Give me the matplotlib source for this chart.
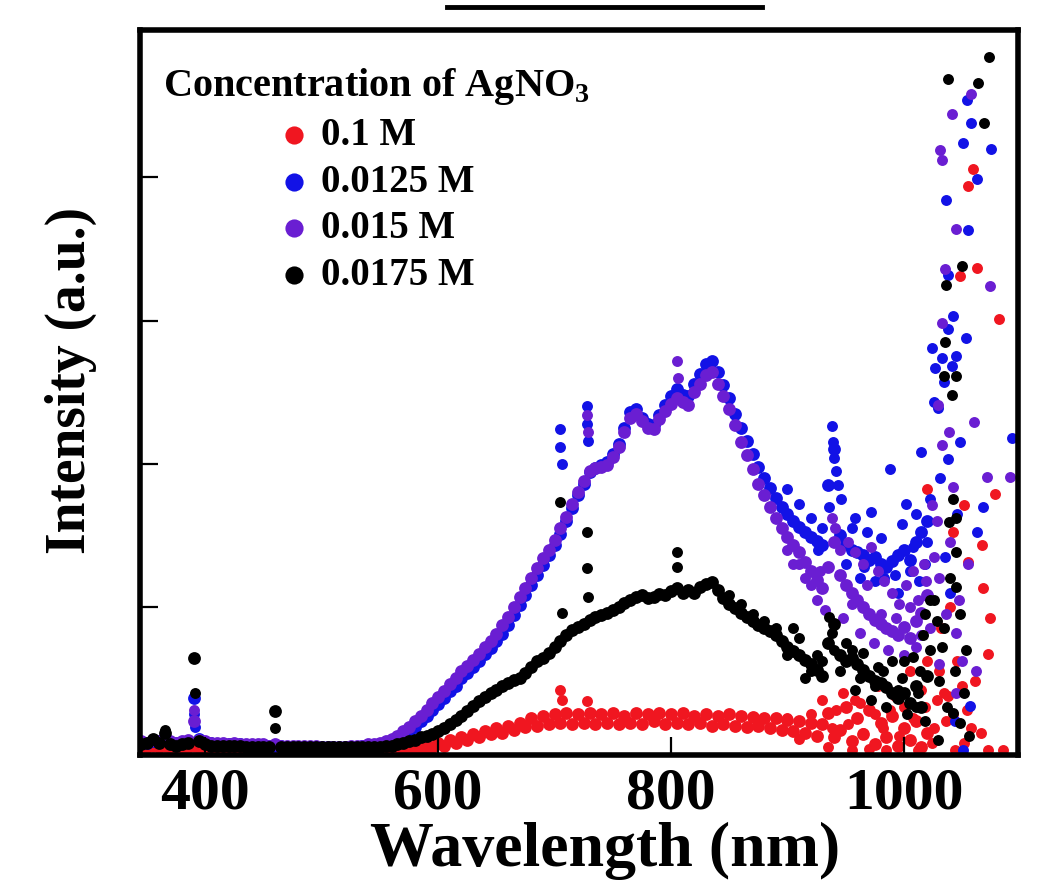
import numpy as np
import matplotlib.pyplot as plt
from matplotlib.lines import Line2D

plt.rcParams['font.family'] = ['Liberation Serif', 'DejaVu Serif']
plt.rcParams['font.weight'] = 'bold'
plt.rcParams['mathtext.fontset'] = 'custom'
plt.rcParams['mathtext.rm'] = 'Liberation Serif:bold'
plt.rcParams['mathtext.bf'] = 'Liberation Serif:bold'

# wavelength grid (nm), 5 nm sampling
wavelength = np.arange(345, 1021, 5)

# 0.1 M
int_01 = [0.02, 0.02, 0.03, 0.02, 0.03, 0.02, 0.02, 0.02, 0.02, 0.03,
          0.02, 0.02, 0.02, 0.02, 0.01, 0.01, 0.01, 0.01, 0.01, 0.01,
          0.01, 0.01, 0.01, 0.01, 0.01, 0.01, 0.01, 0.01, 0.01, 0.01,
          0.01, 0.01, 0.01, 0.01, 0.01, 0.01, 0.01, 0.01, 0.01, 0.01,
          0.01, 0.01, 0.01, 0.01, 0.01, 0.01, 0.01, 0.02, 0.02, 0.02,
          0.02, 0.05, 0.03, 0.07, 0.05, 0.09, 0.07, 0.11, 0.09, 0.13,
          0.11, 0.15, 0.12, 0.17, 0.14, 0.19, 0.16, 0.22, 0.17, 0.24,
          0.18, 0.25, 0.19, 0.26, 0.18, 0.25, 0.19, 0.26, 0.18, 0.25,
          0.19, 0.26, 0.18, 0.24, 0.19, 0.26, 0.18, 0.25, 0.20, 0.26,
          0.18, 0.25, 0.19, 0.26, 0.18, 0.24, 0.19, 0.25, 0.17, 0.24,
          0.18, 0.25, 0.17, 0.24, 0.16, 0.23, 0.17, 0.22, 0.15, 0.22,
          0.14, 0.21, 0.13, 0.20, 0.12, 0.19, 0.10, 0.18, 0.26, 0.09,
          0.14, 0.30, 0.06, 0.22, 0.11, 0.28, 0.04, 0.19, 0.09, 0.24,
          0.03, 0.15, 0.07, 0.20, 0.02, 0.12]

# 0.0125 M
int_0125 = [0.05, 0.05, 0.06, 0.06, 0.07, 0.05, 0.05, 0.05, 0.06, 0.36,
            0.08, 0.05, 0.05, 0.04, 0.04, 0.04, 0.04, 0.04, 0.03, 0.03,
            0.03, 0.03, 0.03, 0.03, 0.03, 0.02, 0.02, 0.02, 0.02, 0.02,
            0.02, 0.02, 0.02, 0.02, 0.02, 0.02, 0.02, 0.02, 0.03, 0.03,
            0.03, 0.04, 0.05, 0.06, 0.08, 0.10, 0.13, 0.16, 0.20, 0.24,
            0.28, 0.32, 0.36, 0.41, 0.45, 0.50, 0.54, 0.58, 0.62, 0.67,
            0.71, 0.76, 0.81, 0.87, 0.94, 1.01, 1.08, 1.15, 1.22, 1.29,
            1.36, 1.43, 1.51, 1.60, 1.69, 1.78, 1.86, 1.94, 1.97, 1.99,
            2.01, 2.07, 2.14, 2.25, 2.36, 2.38, 2.32, 2.28, 2.27, 2.34,
            2.41, 2.47, 2.52, 2.48, 2.47, 2.56, 2.63, 2.70, 2.72, 2.64,
            2.55, 2.46, 2.35, 2.25, 2.16, 2.07, 1.98, 1.90, 1.83, 1.76,
            1.70, 1.65, 1.60, 1.56, 1.52, 1.49, 1.46, 1.43, 1.85, 2.10,
            1.50, 1.44, 1.40, 1.38, 1.36, 1.33, 1.35, 1.30, 1.28, 1.32,
            1.36, 1.40, 1.33, 1.45, 1.52, 1.60]

# 0.015 M
int_015 = [0.06, 0.05, 0.07, 0.06, 0.08, 0.06, 0.05, 0.06, 0.07, 0.20,
           0.07, 0.06, 0.05, 0.05, 0.05, 0.04, 0.05, 0.04, 0.04, 0.04,
           0.04, 0.04, 0.03, 0.04, 0.03, 0.03, 0.03, 0.03, 0.03, 0.03,
           0.03, 0.02, 0.02, 0.02, 0.02, 0.02, 0.03, 0.03, 0.03, 0.04,
           0.04, 0.05, 0.06, 0.08, 0.10, 0.13, 0.16, 0.20, 0.24, 0.28,
           0.33, 0.37, 0.41, 0.46, 0.50, 0.55, 0.59, 0.63, 0.67, 0.72,
           0.76, 0.81, 0.87, 0.93, 1.00, 1.07, 1.13, 1.20, 1.27, 1.34,
           1.40, 1.47, 1.55, 1.63, 1.72, 1.80, 1.88, 1.95, 1.97, 1.98,
           1.99, 2.05, 2.12, 2.22, 2.32, 2.35, 2.30, 2.25, 2.24, 2.31,
           2.37, 2.42, 2.46, 2.43, 2.41, 2.50, 2.56, 2.62, 2.64, 2.56,
           2.47, 2.38, 2.27, 2.15, 2.06, 1.96, 1.86, 1.78, 1.70, 1.62,
           1.55, 1.49, 1.43, 1.38, 1.31, 1.25, 1.19, 1.13, 1.28, 1.45,
           1.22, 1.15, 1.10, 1.05, 1.00, 0.95, 0.91, 0.88, 0.85, 0.83,
           0.80, 0.86, 0.78, 0.90, 0.96, 1.08]

# 0.0175 M
int_0175 = [0.04, 0.05, 0.08, 0.05, 0.12, 0.04, 0.03, 0.04, 0.05, 0.64,
            0.06, 0.04, 0.03, 0.03, 0.03, 0.03, 0.03, 0.03, 0.02, 0.02,
            0.02, 0.02, 0.02, 0.27, 0.02, 0.02, 0.02, 0.02, 0.02, 0.02,
            0.02, 0.02, 0.02, 0.02, 0.02, 0.02, 0.02, 0.02, 0.02, 0.02,
            0.02, 0.02, 0.03, 0.03, 0.04, 0.05, 0.06, 0.07, 0.09, 0.10,
            0.11, 0.13, 0.15, 0.18, 0.21, 0.24, 0.27, 0.31, 0.34, 0.37,
            0.40, 0.42, 0.45, 0.47, 0.49, 0.50, 0.54, 0.58, 0.62, 0.64,
            0.68, 0.72, 0.76, 0.80, 0.84, 0.86, 0.88, 0.91, 0.93, 0.94,
            0.96, 0.98, 1.00, 1.03, 1.05, 1.07, 1.08, 1.06, 1.07, 1.09,
            1.08, 1.11, 1.13, 1.10, 1.12, 1.10, 1.14, 1.16, 1.17, 1.12,
            1.06, 1.02, 0.99, 0.96, 0.93, 0.90, 0.87, 0.85, 0.83, 0.80,
            0.76, 0.72, 0.69, 0.66, 0.63, 0.60, 0.56, 0.52, 0.75, 0.88,
            0.66, 0.62, 0.64, 0.60, 0.56, 0.52, 0.48, 0.47, 0.44, 0.40,
            0.36, 0.40, 0.33, 0.45, 0.30, 0.52]

# spikes and the noisy tail past ~900 nm
x_01 = [705, 706, 728, 930, 935, 948, 955, 962, 970, 978, 985, 992, 1000, 1005,
        1012, 1015, 1020, 1024, 1028, 1030, 1032, 1036, 1038, 1040, 1044, 1046,
        1050, 1052, 1054, 1058, 1061, 1066, 1072, 1085,
        900, 910, 920, 938, 942, 952, 958, 965, 975, 982, 988, 996, 1008, 1018,
        1026, 1034, 1042,
        1020, 1042, 1048, 1052, 1055, 1055, 1059, 1063, 1067, 1068, 1072, 1074,
        1078, 1082]
y_01 = [0.42, 0.35, 0.34, 0.35, 0.02, 0.40, 0.00, 0.33, 0.01, 0.45, 0.00, 0.38,
        0.30, 0.55, 0.00, 0.42, 0.62, 0.05, 0.35, 0.55, 0.85, 0.20, 0.38, 1.00,
        0.00, 0.62, 0.45, 0.05, 0.28, 0.15, 0.48, 0.12, 0.00, 0.00,
        0.22, 0.08, 0.25, 0.15, 0.28, 0.18, 0.35, 0.12, 0.25, 0.15, 0.28, 0.10,
        0.22, 0.30, 0.15, 0.40, 0.25,
        1.82, 1.52, 3.31, 1.71, 3.94, 1.31, 4.06, 3.37, 1.43, 1.13, 0.67, 0.92,
        1.79, 3.01]

x_0125 = [390, 391, 705, 705, 706, 728, 728, 729,
          938, 939, 940, 942, 943, 936, 946,
          900, 910, 920, 926, 930, 950, 958, 966, 972, 983, 995, 1002, 1008,
          1013, 1020,
          955, 962, 968, 975, 980, 988, 992, 998, 1005, 1010, 1015, 1018, 1022,
          1024, 1026, 1027, 1029, 1031, 1033, 1034, 1035, 1036, 1038, 1038,
          1038, 1040, 1041, 1042, 1044, 1045, 1046, 1048, 1051, 1051, 1053,
          1054, 1055, 1057, 1058, 1063, 1063, 1068, 1075, 1093]
y_0125 = [0.25, 0.16, 2.24, 2.12, 2.00, 2.40, 2.28, 2.16,
          2.26, 2.15, 2.04, 1.95, 1.85, 1.70, 1.75,
          1.82, 1.72, 1.62, 1.40, 1.55, 1.30, 1.62, 1.28, 1.66, 1.20, 1.10, 1.72,
          1.42, 1.18, 1.45,
          1.55, 1.20, 1.52, 1.18, 1.48, 1.96, 1.22, 1.58, 1.25, 1.65, 2.08, 1.30,
          1.75, 2.81, 2.43, 2.67, 2.39, 1.90, 2.74, 2.57, 1.35, 3.84, 2.03, 2.94,
          3.32, 1.10, 2.68, 3.03, 0.20, 2.75, 1.65, 2.15, 4.24, 0.00, 2.88,
          4.54, 3.63, 0.31, 4.38, 3.99, 1.52, 1.70, 4.20, 2.18]

x_015 = [365, 390, 728, 729, 805, 806,
         900, 910, 920, 928, 945, 955, 968, 980, 993, 1005, 1015, 1019,
         905, 915, 925, 932, 938, 941, 948, 952, 958, 962, 965, 972, 974, 978,
         983, 986, 990, 996, 1000, 1002, 1008, 1010, 1012, 1017, 1022, 1024,
         1026, 1028, 1029, 1030, 1030, 1031, 1033, 1033, 1033, 1035, 1036,
         1039, 1040, 1041, 1042, 1045, 1045, 1045, 1047, 1050, 1055, 1058,
         1060, 1062, 1071, 1074, 1091]
y_015 = [0.12, 0.28, 2.34, 2.22, 2.72, 2.60,
         1.40, 1.30, 1.15, 1.25, 1.40, 1.02, 1.15, 0.95, 0.92, 1.00, 0.80, 1.18,
         1.30, 1.20, 1.05, 0.98, 1.62, 1.55, 0.92, 1.45, 1.38, 0.82, 1.30, 1.42,
         0.75, 1.25, 1.18, 0.70, 1.10, 1.02, 0.66, 1.15, 1.25, 0.72, 1.05, 1.30,
         0.85, 1.71, 1.35, 1.60, 2.41, 0.60, 1.20, 4.19, 4.12, 2.98, 2.13, 3.36,
         0.95, 2.22, 1.45, 4.44, 1.84, 3.64, 0.82, 0.40, 1.05, 0.62, 1.30, 4.58,
         2.29, 0.55, 1.91, 3.24, 1.91]

x_0175 = [365, 391, 460, 705, 706, 728, 728, 729, 805, 805, 936, 938, 940,
          850, 860, 870, 880, 890, 900, 910, 920, 930, 945, 955, 962, 975, 982,
          995, 1000, 1010, 1014,
          905, 915, 925, 950, 958, 965, 972, 978, 985, 990, 998, 1003, 1008,
          1012, 1016, 1018, 1018, 1022, 1022, 1026, 1028, 1029, 1030, 1033,
          1034, 1034, 1035, 1036, 1037, 1038, 1039, 1040, 1041, 1042, 1042,
          1044, 1045, 1045, 1045, 1045, 1048, 1048, 1050, 1052, 1053, 1056,
          1064, 1069, 1073]
y_0175 = [0.14, 0.40, 0.15, 1.73, 0.96, 1.52, 1.27, 1.07, 1.38, 1.28, 0.93,
          0.82, 0.70,
          1.08, 1.02, 0.95, 0.90, 0.85, 0.66, 0.78, 0.55, 0.62, 0.55, 0.70, 0.50,
          0.45, 0.55, 0.42, 0.62, 0.30, 0.55,
          0.85, 0.50, 0.66, 0.75, 0.42, 0.68, 0.35, 0.58, 0.30, 0.62, 0.50, 0.25,
          0.65, 0.40, 0.80, 0.20, 0.95, 0.70, 1.05, 1.05, 0.90, 0.07, 0.48, 0.72,
          0.85, 2.61, 2.85, 3.25, 0.30, 4.69, 1.59, 1.20, 2.48, 1.75, 0.26, 0.55,
          2.61, 1.62, 1.38, 1.14, 0.95, 0.19, 3.38, 0.40, 0.70, 0.10, 4.66, 4.38,
          4.84]

series = [
    ('0.1 M', int_01, x_01, y_01, '#f01620'),
    ('0.0125 M', int_0125, x_0125, y_0125, '#1212e6'),
    ('0.015 M', int_015, x_015, y_015, '#6a1ed2'),
    ('0.0175 M', int_0175, x_0175, y_0175, '#000000'),
]

fig = plt.figure(figsize=(10.61, 8.83), dpi=100)
ax = fig.add_axes([0.132, 0.145, 0.8275, 0.821])

for name, vals, ex, ey, col in series:
    ax.scatter(wavelength, vals, s=85, color=col, linewidths=0, label=name)
    ax.scatter(ex, ey, s=62, color=col, linewidths=0)

ax.set_xlim(344, 1098)
ax.set_ylim(-0.035, 5.03)
ax.set_xticks([400, 600, 800, 1000])
ax.set_yticks([1, 2, 3, 4])
ax.tick_params(direction='in', length=13, width=1.6, labelsize=43, pad=9,
               labelleft=False)
for sp in ax.spines.values():
    sp.set_linewidth(4)

ax.set_xlabel('Wavelength (nm)', fontsize=46, fontweight='bold', va='bottom')
ax.xaxis.set_label_coords(0.53, -0.173)
ax.set_ylabel('Intensity (a.u.)', fontsize=40, fontweight='bold')
ax.yaxis.set_label_coords(-0.049, 0.516)

ax.legend(loc='upper left', bbox_to_anchor=(0.026, 0.95), frameon=False,
          title='Concentration of AgNO$_3$',
          title_fontproperties={'size': 29, 'weight': 'bold'},
          prop={'size': 28, 'weight': 'bold'}, markerscale=1.42,
          handlelength=0.8, handletextpad=0.3, labelspacing=0.25,
          borderpad=0, borderaxespad=0, scatterpoints=1)

# rule under the heading above the panel
fig.add_artist(Line2D([447 / 1061, 762 / 1061], [1 - 6.5 / 883] * 2,
                      color='black', lw=3.5, transform=fig.transFigure))

fig.savefig('out.png', dpi=100)
